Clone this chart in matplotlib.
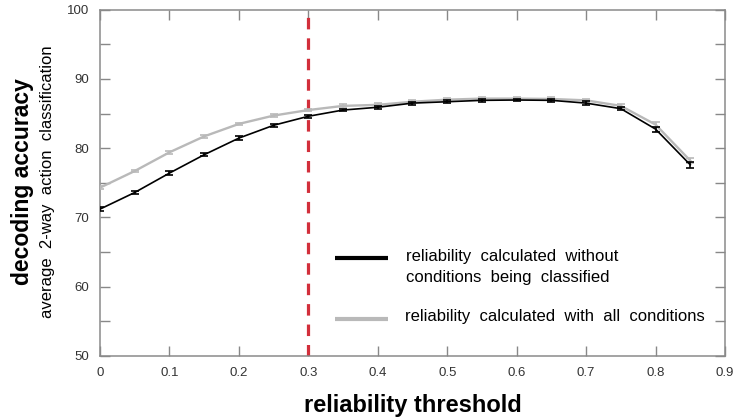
import numpy as np
import matplotlib
matplotlib.use("Agg")
from matplotlib import pyplot as plt

plt.rcParams['font.family'] = ['Liberation Sans', 'DejaVu Sans']

# reliability thresholds and decoding accuracy (%)
thresholds = [0, 0.05, 0.1, 0.15, 0.2, 0.25, 0.3, 0.35, 0.4, 0.45,
              0.5, 0.55, 0.6, 0.65, 0.7, 0.75, 0.8, 0.85]
acc_without = [71.2, 73.6, 76.4, 79.05, 81.45, 83.3, 84.6, 85.5, 85.9, 86.5,
               86.7, 86.9, 86.95, 86.9, 86.5, 85.7, 82.75, 77.6]
acc_all = [74.3, 76.7, 79.4, 81.7, 83.5, 84.7, 85.5, 86.1, 86.25, 86.7,
           87.0, 87.15, 87.15, 87.1, 86.9, 86.1, 83.4, 78.2]
err_without = [0.25, 0.2, 0.25, 0.2, 0.25, 0.2, 0.2, 0.2, 0.2, 0.2,
               0.2, 0.2, 0.2, 0.2, 0.25, 0.25, 0.35, 0.4]
err_all = [0.25, 0.2, 0.25, 0.2, 0.2, 0.2, 0.2, 0.25, 0.25, 0.25,
           0.25, 0.25, 0.25, 0.25, 0.25, 0.25, 0.35, 0.35]
cutoff = 0.3

label_without = "reliability  calculated  without\nconditions  being  classified"
label_all = "reliability  calculated  with  all  conditions"

fig = plt.figure(figsize=(7.37, 4.17), dpi=100)
ax = fig.add_axes([0.1357, 0.1463, 0.848, 0.8307])

gray = "#b9b9b9"
ax.errorbar(thresholds, acc_all, yerr=err_all, color=gray, lw=1.7,
            capsize=3, capthick=1.2, elinewidth=1.2, zorder=3)
ax.errorbar(thresholds, acc_without, yerr=err_without, color="black", lw=1.2,
            capsize=3, capthick=1.2, elinewidth=1.2, zorder=4)
ax.axvline(cutoff, color="#d22f3b", lw=2.3, dashes=(3.6, 2.8), zorder=2)

ax.set_xlim(0, 0.9)
ax.set_ylim(50, 100)
ax.set_xticks(np.arange(0, 0.91, 0.1))
ax.set_xticklabels(["0", "0.1", "0.2", "0.3", "0.4", "0.5", "0.6", "0.7", "0.8", "0.9"])
ax.set_yticks(np.arange(50, 101, 10))
ax.set_yticks(np.arange(55, 100, 10), minor=True)
ax.tick_params(which="both", direction="in", length=7, width=1, color="#888888",
               top=True, right=True, labelsize=9.5, labelcolor="#333333", pad=8)
ax.tick_params(axis="x", pad=8)
for s in ax.spines.values():
    s.set_color("#8a8a8a")
    s.set_linewidth(1.1)

ax.set_xlabel("reliability threshold", fontsize=17, fontweight="bold", labelpad=11)
fig.text(0.031, 0.565, "decoding accuracy", rotation=90, fontsize=16.5,
         fontweight="bold", ha="center", va="center")
fig.text(0.064, 0.565, "average  2-way  action  classification", rotation=90,
         fontsize=12, ha="center", va="center")

# key drawn by hand so the black swatch sits by the first text line
ax.plot([0.376, 0.461], [0.283, 0.283], color="black", lw=3,
        transform=ax.transAxes, solid_capstyle="butt")
ax.text(0.49, 0.256, label_without, transform=ax.transAxes, fontsize=12,
        ha="left", va="center", linespacing=1.5)
ax.plot([0.376, 0.461], [0.107, 0.107], color=gray, lw=3,
        transform=ax.transAxes, solid_capstyle="butt")
ax.text(0.488, 0.113, label_all, transform=ax.transAxes, fontsize=12,
        ha="left", va="center")

fig.savefig("out.png", dpi=100)
